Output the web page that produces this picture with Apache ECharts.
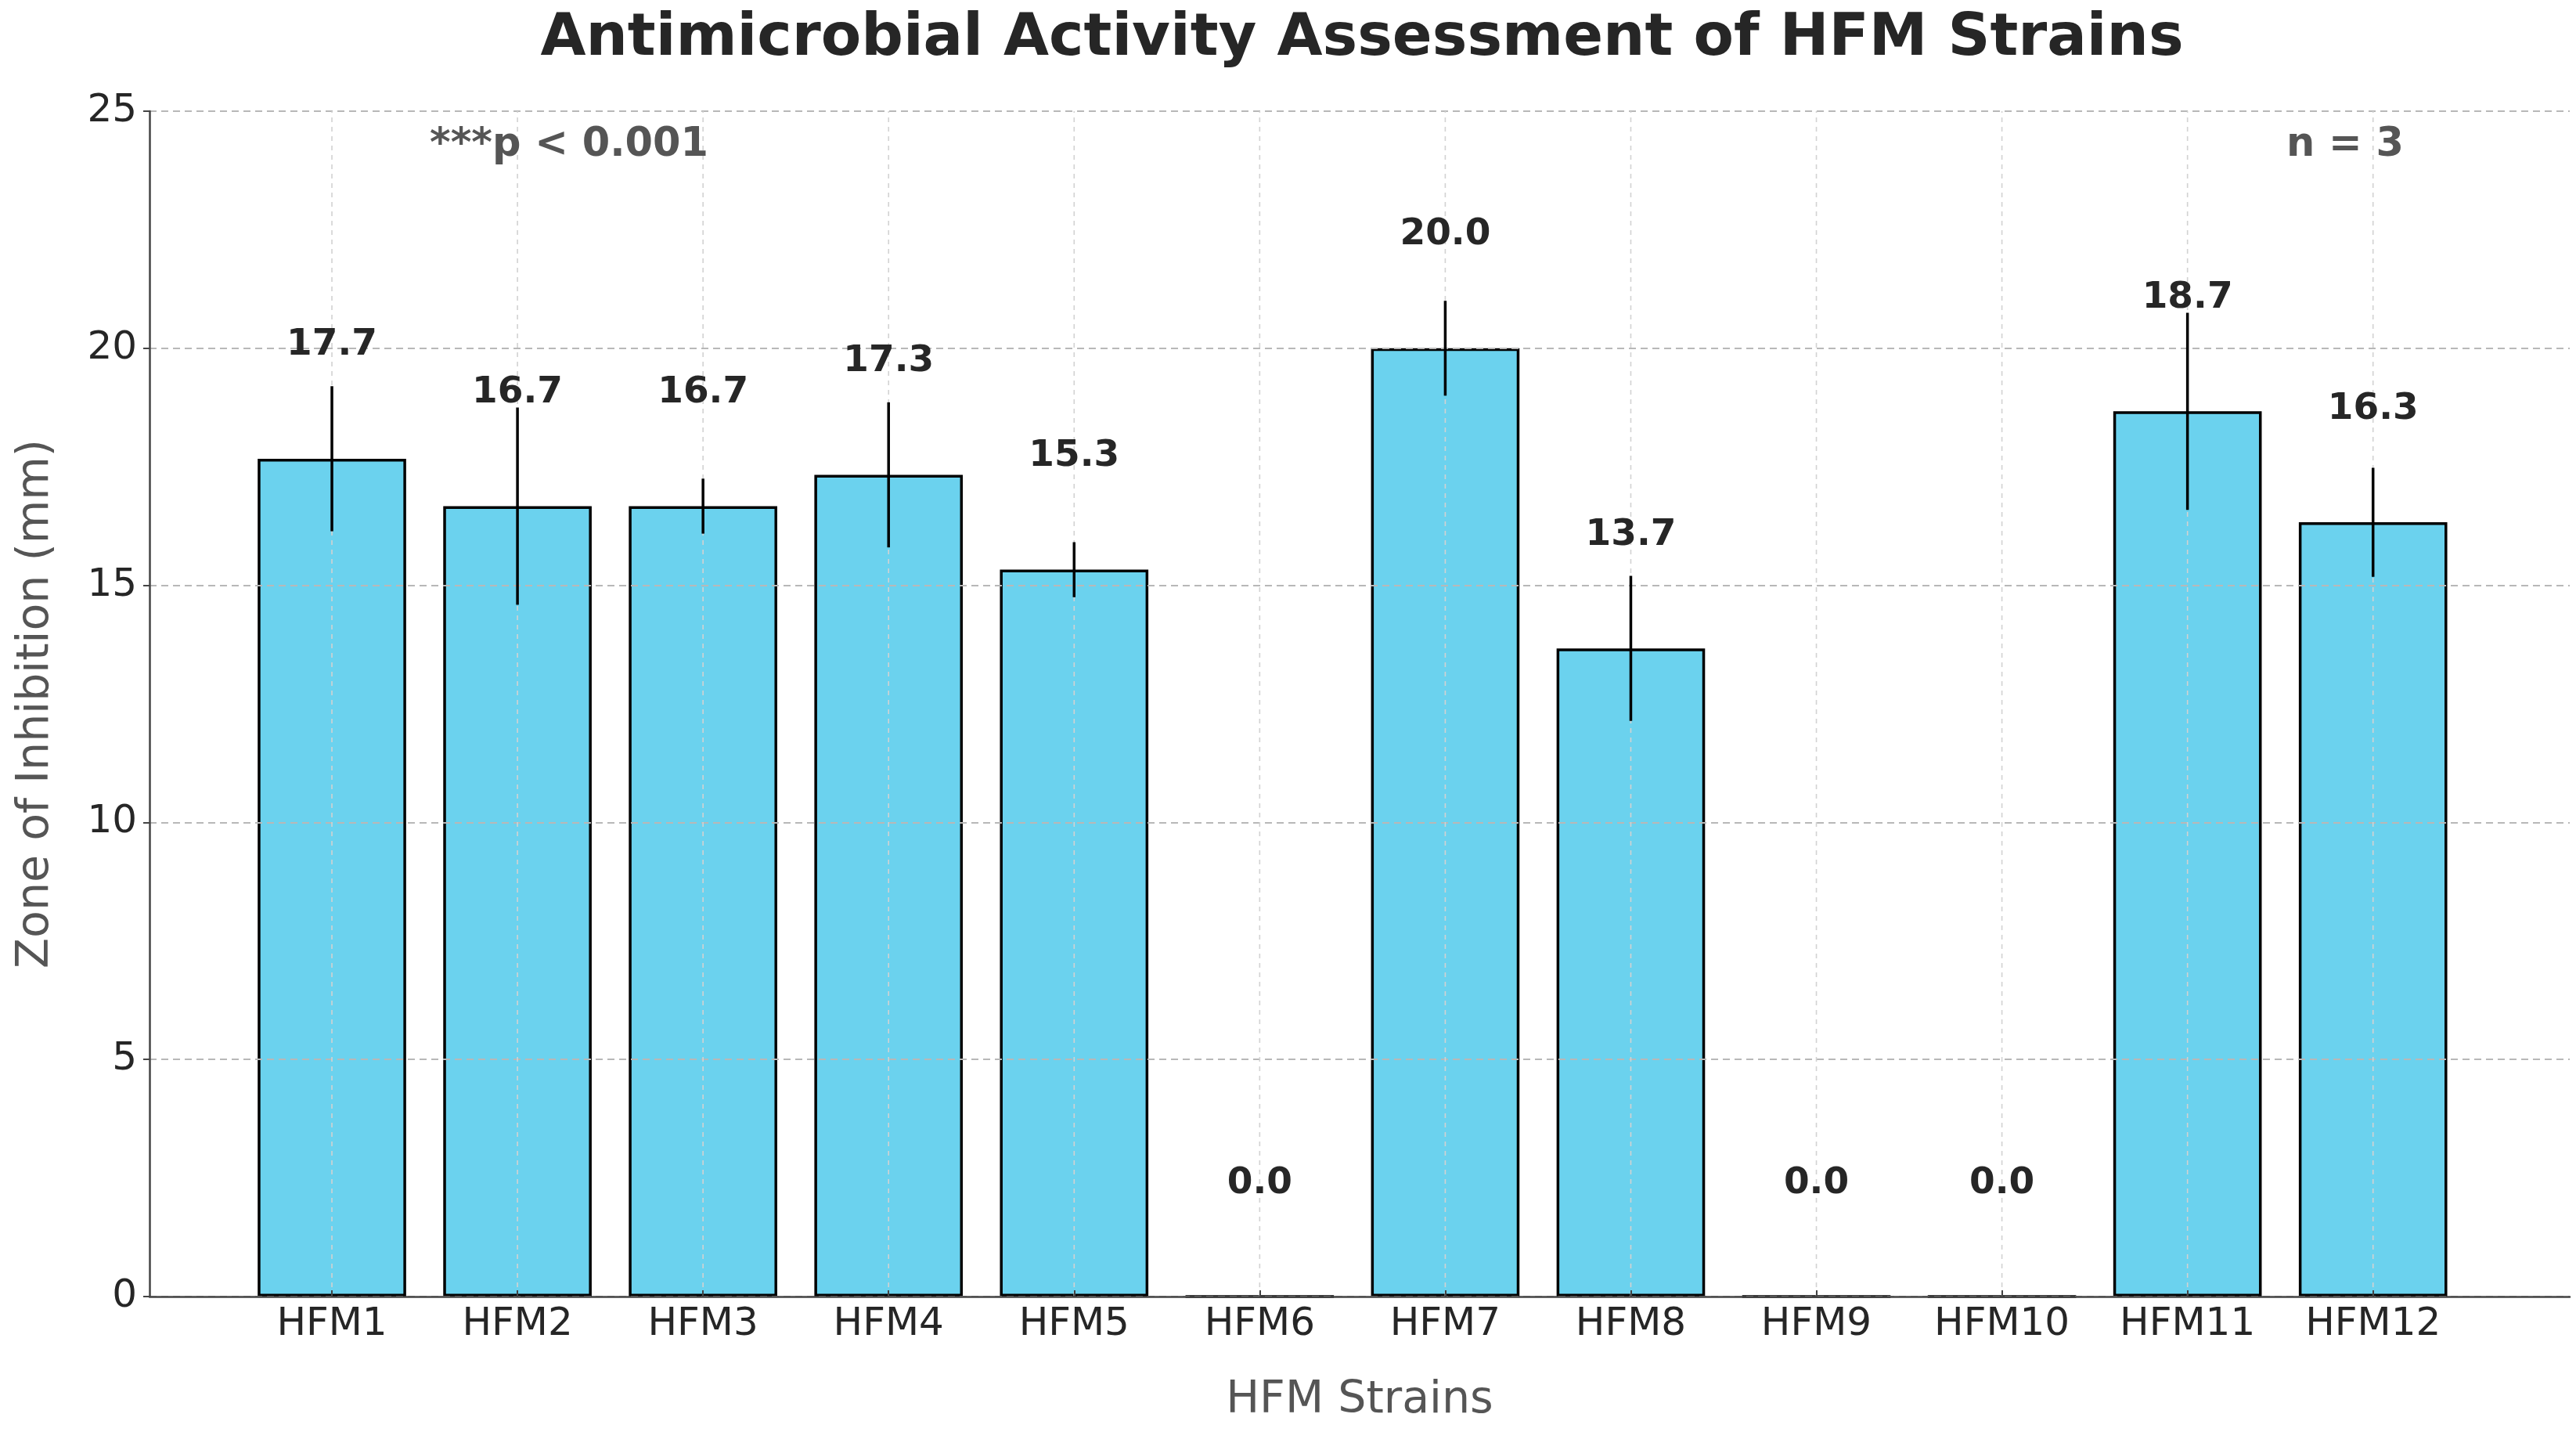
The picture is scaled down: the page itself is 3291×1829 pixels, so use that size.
<!DOCTYPE html>
<html>
<head>
<meta charset="utf-8">
<script src="https://cdn.jsdelivr.net/npm/echarts@6/dist/echarts.min.js"></script>
<style>
html,body{margin:0;padding:0;background:#fff;}
#chart{width:3291px;height:1829px;}
</style>
</head>
<body>
<div id="chart"></div>
<script>
// ---- data ----
const categories = ['HFM1','HFM2','HFM3','HFM4','HFM5','HFM6','HFM7','HFM8','HFM9','HFM10','HFM11','HFM12'];
const means = [17.67, 16.67, 16.67, 17.33, 15.33, 0.0, 20.0, 13.67, 0.0, 0.0, 18.67, 16.33];
const sds   = [1.53, 2.08, 0.58, 1.53, 0.58, 0.0, 1.0, 1.53, 0.0, 0.0, 2.08, 1.15];
const yMin = 0, yMax = 25, yStep = 5;
const labelOffset = 2;
const titleText = 'Antimicrobial Activity Assessment of HFM Strains';
const xName = 'HFM Strains';
const yName = 'Zone of Inhibition (mm)';
const noteLeft = '***p < 0.001';
const noteRight = 'n = 3';

const FONT = 'DejaVu Sans';
const chart = echarts.init(document.getElementById('chart'), null, {renderer:'canvas'});

const idx = categories.map((c, i) => i);
const barData = means.map((m, i) => [i, m]);
const errData = means.map((m, i) => [i, m, sds[i]]);

const option = {
  backgroundColor: '#ffffff',
  animation: false,
  title: {
    text: titleText,
    left: 1735,
    textAlign: 'center',
    top: 8,
    textStyle: {fontFamily: FONT, fontWeight: 'bold', fontSize: 75, color: '#262626'}
  },
  grid: {left: 191, right: 8, top: 142, bottom: 173, containLabel: false},
  xAxis: {
    type: 'value',
    min: -0.983,
    max: 12.06,
    name: xName,
    nameLocation: 'middle',
    nameGap: 105,
    nameTextStyle: {fontFamily: FONT, fontSize: 57, color: '#555555'},
    axisLine: {show: true, onZero: false, lineStyle: {color: '#444444', width: 2.5}},
    axisTick: {show: true, inside: true, length: 8, customValues: idx, lineStyle: {color: '#444444', width: 2}},
    axisLabel: {
      show: true, customValues: idx, margin: 11,
      fontFamily: FONT, fontSize: 50, color: '#262626',
      formatter: v => categories[Math.round(v)] || ''
    },
    splitLine: {show: false},
    z: 3
  },
  yAxis: {
    type: 'value',
    min: yMin, max: yMax, interval: yStep,
    name: yName,
    nameLocation: 'middle',
    nameGap: 116,
    nameTextStyle: {fontFamily: FONT, fontSize: 57, color: '#555555'},
    axisLine: {show: true, onZero: false, lineStyle: {color: '#444444', width: 2.5}},
    axisTick: {show: true, inside: false, length: 8, lineStyle: {color: '#444444', width: 2}},
    axisLabel: {margin: 16, fontFamily: FONT, fontSize: 50, color: '#262626'},
    splitLine: {show: true, lineStyle: {color: '#b8b8b8', width: 2, type: [9, 6]}},
    z: 3
  },
  series: [
    {
      type: 'bar',
      data: barData,
      barWidth: '80%',
      itemStyle: {color: '#6BD2EE', borderColor: '#000000', borderWidth: 3.5},
      z: 2
    },
    {
      type: 'custom',
      name: 'vgrid',
      data: idx.map(i => [i]),
      encode: {x: 0},
      z: 3,
      silent: true,
      renderItem: function (params, api) {
        const x = api.value(0);
        const p1 = api.coord([x, yMin]);
        const p2 = api.coord([x, yMax]);
        return {type: 'line', shape: {x1: p1[0], y1: p1[1], x2: p2[0], y2: p2[1]},
          style: {stroke: '#d2d2d2', lineWidth: 1.6, lineDash: [6, 6]}};
      }
    },
    {
      type: 'custom',
      name: 'errorbars',
      data: errData,
      encode: {x: 0, y: 1},
      z: 5,
      renderItem: function (params, api) {
        const x = api.value(0), m = api.value(1), s = api.value(2);
        const p1 = api.coord([x, m - s]);
        const p2 = api.coord([x, m + s]);
        return {type: 'line', shape: {x1: p1[0], y1: p1[1], x2: p2[0], y2: p2[1]},
          style: {stroke: '#000000', lineWidth: 3.5}};
      }
    },
    {
      type: 'custom',
      name: 'valueLabels',
      data: barData,
      encode: {x: 0, y: 1},
      z: 6,
      renderItem: function (params, api) {
        const x = api.value(0), m = api.value(1);
        const p = api.coord([x, m + labelOffset]);
        return {type: 'text', x: p[0], y: p[1],
          style: {text: m.toFixed(1), align: 'center', verticalAlign: 'bottom',
            fontFamily: FONT, fontWeight: 'bold', fontSize: 47, fill: '#262626'}};
      }
    }
  ],
  graphic: [
    {type: 'text', x: 727, y: 186, z: 10,
      style: {text: noteLeft, align: 'center', verticalAlign: 'middle',
        fontFamily: FONT, fontWeight: 'bold', fontSize: 51, fill: '#555555'}},
    {type: 'text', x: 2996, y: 186, z: 10,
      style: {text: noteRight, align: 'center', verticalAlign: 'middle',
        fontFamily: FONT, fontWeight: 'bold', fontSize: 51, fill: '#555555'}}
  ]
};
chart.setOption(option);
</script>
</body>
</html>
